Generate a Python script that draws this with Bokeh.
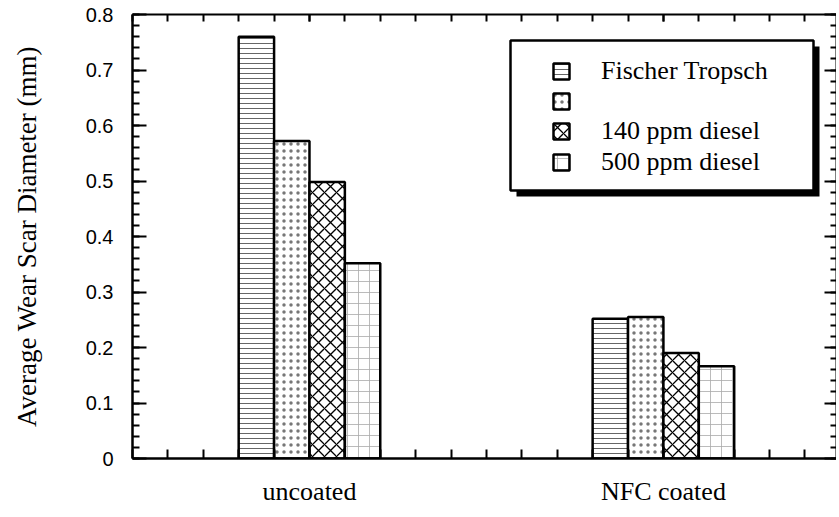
import numpy as np
from bokeh.plotting import figure
from bokeh.models import (Range1d, LinearAxis, FixedTicker, CustomJSTickFormatter,
                          Legend, LegendItem, BoxAnnotation, CustomLabelingPolicy)
from bokeh.core.properties import value
from bokeh.embed import file_html
from bokeh.resources import INLINE

# ---- data ----
groups = ["uncoated", "NFC coated"]
series_names = ["Fischer Tropsch", "", "140 ppm diesel", "500 ppm diesel"]
fischer_tropsch = [0.760, 0.252]
second_fuel = [0.572, 0.255]
diesel_140ppm = [0.498, 0.190]
diesel_500ppm = [0.352, 0.166]
y_tick_values = [0, 0.1, 0.2, 0.3, 0.4, 0.5, 0.6, 0.7, 0.8]

series_values = [fischer_tropsch, second_fuel, diesel_140ppm, diesel_500ppm]

# ---- styles ----
bar_width = 0.1
offsets = [-0.15, -0.05, 0.05, 0.15]
hatch_styles = [
    dict(hatch_pattern="horizontal_line", hatch_scale=5, hatch_weight=1.0, hatch_color="#666666"),
    dict(hatch_pattern="dot", hatch_scale=7, hatch_weight=0.7, hatch_color="#777777"),
    dict(hatch_pattern="diagonal_cross", hatch_scale=12, hatch_weight=1.3, hatch_color="#000000"),
    dict(hatch_pattern="cross", hatch_scale=11, hatch_weight=0.8, hatch_color="#aaaaaa"),
]

p = figure(frame_width=704, frame_height=444,
           x_range=Range1d(0, 1.989), y_range=Range1d(0, 0.8),
           output_backend="svg", toolbar_location=None,
           min_border_left=132, min_border_right=0, min_border_top=14,
           min_border_bottom=50)
p.outline_line_color = None
p.grid.visible = False
p.background_fill_color = "white"

group_x = np.arange(len(groups)) + 0.5
renderers = []
for vals, off, hs in zip(series_values, offsets, hatch_styles):
    r = p.vbar(x=group_x + off, top=vals, width=bar_width, bottom=0,
               fill_color="white", line_color="black", line_width=2.5, **hs)
    renderers.append(r)

# ---- axes ----
x_minor = [round(0.1 * i, 2) for i in range(0, 20)]
x_ticker = FixedTicker(ticks=list(group_x), minor_ticks=x_minor)
y_minor = [round(0.02 * i, 2) for i in range(0, 41)]
y_ticker = FixedTicker(ticks=y_tick_values, minor_ticks=y_minor)

xa = p.xaxis[0]
xa.ticker = x_ticker
xa.formatter = CustomJSTickFormatter(args=dict(names=groups), code="""
    const i = Math.round(tick - 0.5);
    if (i >= 0 && i < names.length) return names[i];
    return '';
""")
xa.major_tick_in = 12
xa.major_tick_out = 0
xa.minor_tick_in = 9
xa.minor_tick_out = 0
xa.axis_line_width = 2.5
xa.major_tick_line_width = 2
xa.minor_tick_line_width = 2
xa.major_label_text_font = "Liberation Serif"
xa.major_label_text_font_size = "26px"
xa.major_label_text_color = "black"
xa.major_label_standoff = 18

ya = p.yaxis[0]
ya.ticker = y_ticker
ya.formatter = CustomJSTickFormatter(code="return tick == 0 ? '0' : tick.toFixed(1);")
ya.major_tick_in = 14
ya.major_tick_out = 0
ya.minor_tick_in = 7
ya.minor_tick_out = 0
ya.axis_line_width = 2.5
ya.major_tick_line_width = 2
ya.minor_tick_line_width = 2
ya.major_label_text_font = "Liberation Sans"
ya.major_label_text_font_size = "20px"
ya.major_label_text_color = "black"
ya.major_label_standoff = 19
ya.axis_label = "Average Wear Scar Diameter (mm)"
ya.axis_label_text_font = "Liberation Serif"
ya.axis_label_text_font_size = "27px"
ya.axis_label_text_font_style = "normal"
ya.axis_label_text_color = "black"
ya.axis_label_standoff = 41

hide_labels = CustomLabelingPolicy(code="""
    for (let i = 0; i < indices.size; i++) { indices.unset(i) }
    return indices;
""")
blank = CustomJSTickFormatter(code="return '';")

top_axis = LinearAxis(ticker=x_ticker, formatter=blank, major_label_policy=hide_labels,
                      major_label_standoff=0, major_tick_in=7, major_tick_out=0,
                      minor_tick_in=7, minor_tick_out=0, axis_line_width=2,
                      major_tick_line_width=2, minor_tick_line_width=2)
p.add_layout(top_axis, "above")
right_axis = LinearAxis(ticker=y_ticker, formatter=blank, major_label_policy=hide_labels,
                        major_label_standoff=0, major_tick_in=12, major_tick_out=0,
                        minor_tick_in=6, minor_tick_out=0, axis_line_width=2,
                        major_tick_line_width=2, minor_tick_line_width=2)
p.add_layout(right_axis, "right")

# ---- legend frame with shadow ----
shadow = BoxAnnotation(left=384, right=687, bottom=262, top=412,
                       left_units="screen", right_units="screen",
                       bottom_units="screen", top_units="screen",
                       fill_color="black", fill_alpha=1, line_color=None)
frame_box = BoxAnnotation(left=378, right=681, bottom=268, top=418,
                          left_units="screen", right_units="screen",
                          bottom_units="screen", top_units="screen",
                          fill_color="white", fill_alpha=1,
                          line_color="black", line_width=2.5, line_alpha=1)
p.add_layout(shadow)
p.add_layout(frame_box)

items = [LegendItem(label=value(n), renderers=[r]) for n, r in zip(series_names, renderers)]
legend = Legend(items=items, location=(419, 281), padding=18, spacing=1,
                glyph_width=20, glyph_height=20, label_height=28,
                label_standoff=30, border_line_color=None,
                background_fill_alpha=0,
                label_text_font="Liberation Serif", label_text_font_size="26px",
                label_text_color="black")
p.add_layout(legend, "center")

open("out.html", "w").write(file_html(p, INLINE))
